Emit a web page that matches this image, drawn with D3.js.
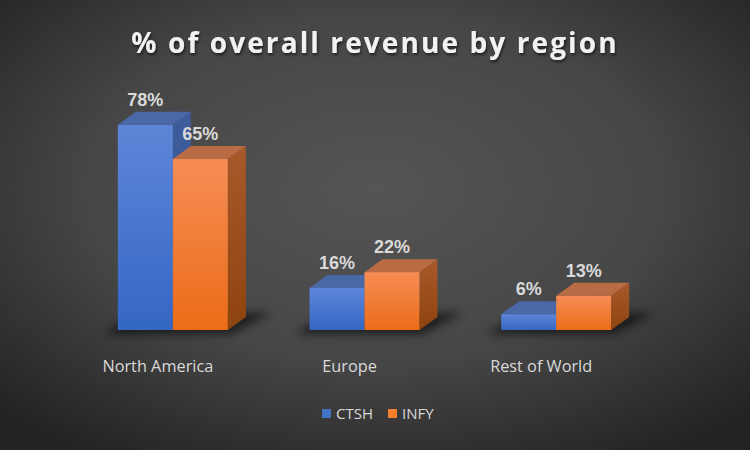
<!DOCTYPE html>
<html><head><meta charset="utf-8">
<script src="https://cdn.jsdelivr.net/npm/d3@7"></script>
<style>html,body{margin:0;padding:0;background:#333;}svg{display:block;}</style>
</head><body>
<script>
const categories = ["North America", "Europe", "Rest of World"];
const seriesNames = ["CTSH", "INFY"];
const ctsh = [78, 16, 6];
const infy = [65, 22, 13];
const title = "% of overall revenue by region";

const W = 750, H = 450;
const svg = d3.select("body").append("svg").attr("width", W).attr("height", H);
const defs = svg.append("defs");

const bg = defs.append("radialGradient").attr("id","bg").attr("cx","50%").attr("cy","42%").attr("r","70%");
bg.append("stop").attr("offset","0%").attr("stop-color","#555555");
bg.append("stop").attr("offset","55%").attr("stop-color","#464646");
bg.append("stop").attr("offset","100%").attr("stop-color","#232323");
svg.append("rect").attr("width",W).attr("height",H).attr("fill","url(#bg)");

function lin(id, c1, c2){
  const g = defs.append("linearGradient").attr("id",id).attr("x1",0).attr("y1",0).attr("x2",0).attr("y2",1);
  g.append("stop").attr("offset","0%").attr("stop-color",c1);
  g.append("stop").attr("offset","100%").attr("stop-color",c2);
}
lin("ctshFront","#5e86d8","#3466c4");
lin("infyFront","#f68d55","#ec6c18");
lin("ctshSide","#3f5d9c","#2e4f91");
lin("infySide","#a8592a","#8e440f");

const blur = defs.append("filter").attr("id","shadow").attr("x","-50%").attr("y","-200%").attr("width","200%").attr("height","500%");
blur.append("feGaussianBlur").attr("stdDeviation","5");
const tsh = defs.append("filter").attr("id","tshadow").attr("x","-10%").attr("y","-30%").attr("width","120%").attr("height","160%");
tsh.append("feDropShadow").attr("dx","1").attr("dy","2").attr("stdDeviation","1.5").attr("flood-color","#000").attr("flood-opacity","0.6");

const x0 = d3.scaleBand().domain(categories).range([62, 637]);
const y = d3.scaleLinear().domain([0, 100]).range([330, 67]);
const barW = 55;
const x1 = d3.scaleBand().domain(seriesNames).range([-40, -40 + 2*barW]);
const DX = 18, DY = -13;

const data = categories.map((c,i)=>({cat:c, vals:[{s:"CTSH", v:ctsh[i]},{s:"INFY", v:infy[i]}]}));
const fronts = {CTSH:"url(#ctshFront)", INFY:"url(#infyFront)"};
const tops = {CTSH:"#4a67a6", INFY:"#b96b43"};
const sides = {CTSH:"url(#ctshSide)", INFY:"url(#infySide)"};

const g = svg.append("g");
// floor shadows (skewed parallelogram)
data.forEach(d=>{
  const cx = x0(d.cat) + x0.bandwidth()/2;
  const left = cx + x1("CTSH"), right = left + 2*barW, yb = y(0);
  g.append("path")
    .attr("d", `M${left-14},${yb+4}L${right+2},${yb+4}L${right+DX+26},${yb+DY-4}L${left+DX},${yb+DY-4}Z`)
    .attr("fill","#000").attr("opacity",0.6).attr("filter","url(#shadow)");
});

data.forEach(d=>{
  const cx = x0(d.cat) + x0.bandwidth()/2;
  d.vals.forEach(b=>{
    const xl = cx + x1(b.s), xr = xl + barW, yt = y(b.v), yb = y(0);
    g.append("path").attr("d", `M${xr},${yt}L${xr+DX},${yt+DY}L${xr+DX},${yb+DY}L${xr},${yb}Z`).attr("fill", sides[b.s]);
    g.append("path").attr("d", `M${xl},${yt}L${xl+DX},${yt+DY}L${xr+DX},${yt+DY}L${xr},${yt}Z`).attr("fill", tops[b.s]);
  });
  d.vals.forEach(b=>{
    const xl = cx + x1(b.s), yt = y(b.v), yb = y(0);
    g.append("rect").attr("x", xl).attr("y", yt).attr("width", barW).attr("height", yb-yt).attr("fill", fronts[b.s]);
  });
  d.vals.forEach(b=>{
    const xl = cx + x1(b.s), yt = y(b.v);
    g.append("text").attr("x", xl + barW/2).attr("y", yt + DY - 6).attr("text-anchor","middle")
      .attr("font-family","Liberation Sans, Arial, sans-serif").attr("font-weight","bold").attr("font-size",18)
      .attr("fill","#d9d9d9").text(b.v + "%");
  });
});

// category axis labels
svg.append("g").selectAll("text").data(categories).join("text")
  .attr("x", d=>x0(d)+x0.bandwidth()/2).attr("y", 372).attr("text-anchor","middle")
  .attr("font-family","Open Sans, sans-serif").attr("font-size",16.3).attr("fill","#d9d9d9").text(d=>d);

// title
svg.append("text").attr("x", 375).attr("y", 53).attr("text-anchor","middle")
  .attr("font-family","Open Sans, sans-serif").attr("font-weight","bold").attr("font-size",28)
  .attr("letter-spacing","2.1").attr("fill","#f2f2f2").attr("filter","url(#tshadow)").text(title);

// legend
const leg = svg.append("g");
const legItems = [{n:"CTSH", c:"#4472c4", x:322}, {n:"INFY", c:"#f47f2d", x:388}];
legItems.forEach(l=>{
  leg.append("rect").attr("x", l.x).attr("y", 409).attr("width", 9).attr("height", 9).attr("fill", l.c);
  leg.append("text").attr("x", l.x + 14).attr("y", 419).attr("font-family","Open Sans, sans-serif")
    .attr("font-size",15).attr("fill","#d9d9d9").text(l.n);
});
</script>
</body></html>
